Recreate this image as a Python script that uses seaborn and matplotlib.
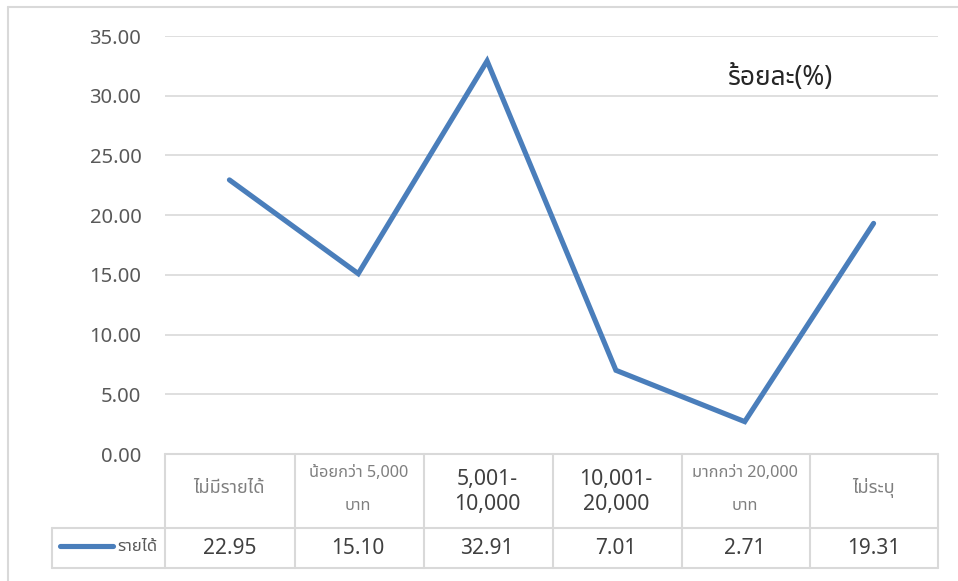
import matplotlib
matplotlib.use("Agg")
import matplotlib.pyplot as plt
import matplotlib.transforms as mtrans
from matplotlib import font_manager
from matplotlib.ft2font import FT2Font
from matplotlib.lines import Line2D
import seaborn as sns
import pandas as pd

categories = ["ไม่มีรายได้", "น้อยกว่า 5,000\nบาท", "5,001-\n10,000",
              "10,001-\n20,000", "มากกว่า 20,000\nบาท", "ไม่ระบุ"]
values = [22.95, 15.10, 32.91, 7.01, 2.71, 19.31]
series_name = "รายได้"
y_ticks = [0, 5, 10, 15, 20, 25, 30, 35]
annotation = "ร้อยละ(%)"

# find a font with Thai glyphs
thai_font = None
preferred = ["Noto Sans Thai", "Noto Sans Thai UI", "Leelawadee UI", "Tahoma", "Loma",
             "Garuda", "Waree", "Tlwg Typo", "Norasi", "Kinnari", "Sawasdee", "Umpush",
             "FreeSans", "Laksaman"]
found = {}
for f in font_manager.fontManager.ttflist:
    try:
        ft = FT2Font(f.fname)
        if 0x0E23 in ft.get_charmap():
            found.setdefault(f.name, f.fname)
    except Exception:
        pass
for p in preferred:
    if p in found:
        thai_font = p
        break
if thai_font is None and found:
    thai_font = sorted(found)[0]

sns.set_theme(style="white")
base = "Noto Sans"
fam = [base] + ([thai_font] if thai_font else []) + ["DejaVu Sans"]
thfam = ([thai_font] if thai_font else []) + [base, "DejaVu Sans"]
plt.rcParams["font.family"] = fam

W, H = 958, 581
fig = plt.figure(figsize=(W / 100, H / 100), dpi=100)
fig.patch.set_facecolor("white")


def fx(px):
    return px / W


def fy(py):
    return 1 - py / H


ax = fig.add_axes([fx(165), fy(454), fx(938) - fx(165), fy(36) - fy(454)])
df = pd.DataFrame({"x": range(len(values)), "y": values})
line_c = "#4A7EBB"
sns.lineplot(data=df, x="x", y="y", ax=ax, color=line_c, linewidth=3.7,
             solid_capstyle="round", solid_joinstyle="miter")
ax.set_xlim(-0.5, len(values) - 0.5)
ax.set_ylim(0, 35)
ax.set_yticks(y_ticks)
ax.set_yticklabels([f"{v:.2f}" for v in y_ticks], fontsize=14.5, color="#595959")
ax.set_xticks([])
ax.set_xlabel("")
ax.set_ylabel("")
ax.tick_params(axis="y", length=0, pad=17)
for s in ax.spines.values():
    s.set_visible(False)
ax.grid(axis="y", color="#d9d9d9", linewidth=1.2)
ax.set_axisbelow(True)

fig.text(fx(781), fy(78), annotation, ha="center", va="center",
         fontsize=19, color="#262626", family=thfam)

# outer chart border
grid_c = "#d9d9d9"


def hline(x0, x1, y):
    fig.add_artist(Line2D([fx(x0), fx(x1)], [fy(y), fy(y)], color=grid_c, lw=1.5,
                          transform=fig.transFigure))


def vline(x, y0, y1):
    fig.add_artist(Line2D([fx(x), fx(x)], [fy(y0), fy(y1)], color=grid_c, lw=1.5,
                          transform=fig.transFigure))


vline(8, 7, 581)
hline(8, 958, 7)

# data table
col_edges = [165, 295, 424, 553, 682, 810, 938]
hline(165, 938, 454)
hline(52, 938, 528)
hline(52, 938, 568)
for x in col_edges:
    vline(x, 454, 568)
vline(52, 528, 568)

tr = mtrans.blended_transform_factory(ax.transData, fig.transFigure)
for i, (c, v) in enumerate(zip(categories, values)):
    if any(0x0E00 <= ord(ch) <= 0x0E7F for ch in c):
        if "\n" in c:
            l1, l2 = c.split("\n")
            ax.text(i, fy(473), l1, transform=tr, ha="center", va="center",
                    fontsize=11.7, color="#7f7f7f", family=thfam)
            ax.text(i, fy(506), l2, transform=tr, ha="center", va="center",
                    fontsize=11.7, color="#7f7f7f", family=thfam)
        else:
            ax.text(i, fy(488), c, transform=tr, ha="center", va="center",
                    fontsize=13, color="#7f7f7f", family=thfam)
    else:
        ax.text(i, fy(492), c, transform=tr, ha="center", va="center",
                fontsize=15.3, color="#404040", linespacing=1.2)
    ax.text(i, fy(548), f"{v:.2f}", transform=tr, ha="center", va="center",
            fontsize=15, color="#404040")

fig.add_artist(Line2D([fx(60), fx(113)], [fy(546), fy(546)], color=line_c, lw=3.7,
                      solid_capstyle="round", transform=fig.transFigure))
fig.text(fx(117), fy(547), series_name, ha="left", va="center", fontsize=12,
         color="#595959", family=thfam)

fig.savefig("out.png", dpi=100, facecolor="white")
